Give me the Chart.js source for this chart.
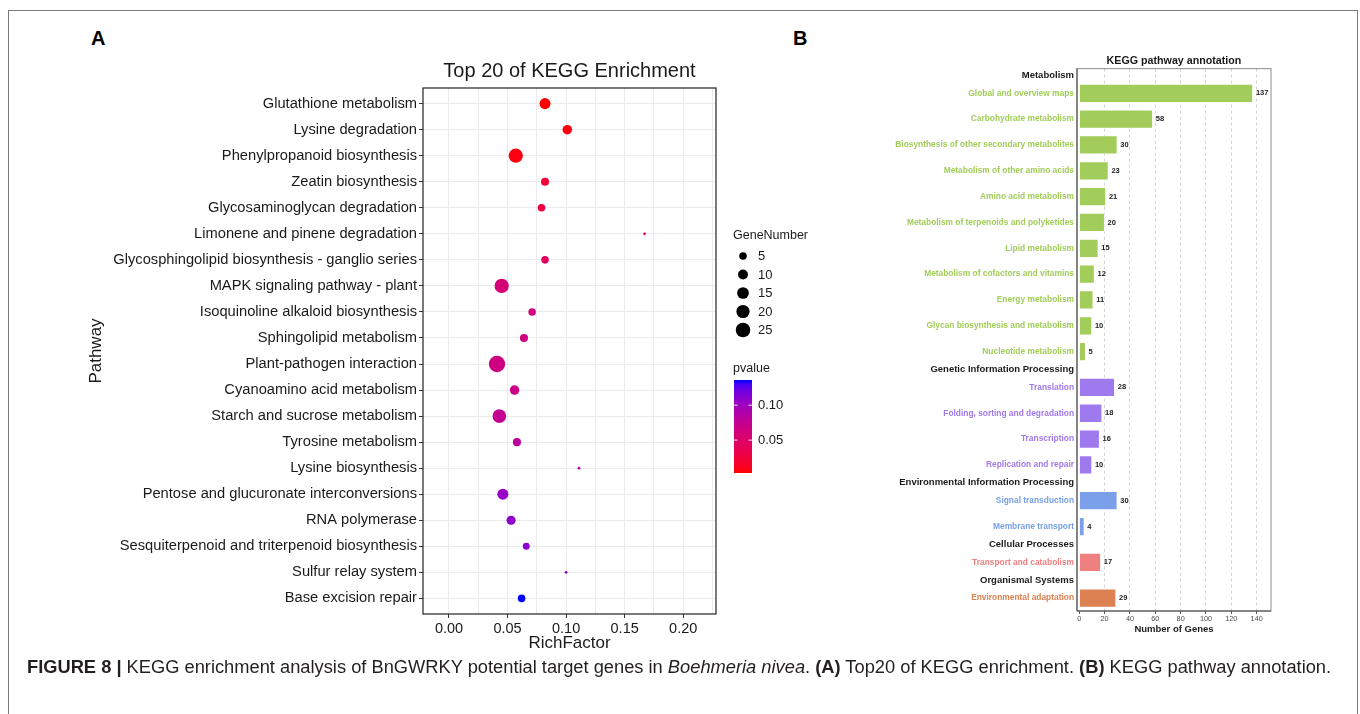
<!DOCTYPE html>
<html>
<head>
<meta charset="utf-8">
<script src="https://cdn.jsdelivr.net/npm/chart.js@4.4.1/dist/chart.umd.min.js"></script>
<style>
  body { margin: 0; width: 1360px; height: 714px; background: #fff; position: relative; overflow: hidden;
         font-family: "Liberation Sans", Arial, Helvetica, sans-serif; }
  .frame { position: absolute; left: 8px; top: 10px; width: 1350px; height: 720px; border: 1px solid #7a7a7a;
           border-bottom: none; box-sizing: border-box; }
  #chart-a { position: absolute; left: 0; top: 0; }
  #chart-b { position: absolute; left: 830px; top: 0; }
  .panel-letter { position: absolute; font-weight: bold; font-size: 20px; line-height: 20px; color: #000; }
  .caption { position: absolute; left: 27px; top: 656px; font-size: 18.3px; line-height: 22px; color: #231f20; white-space: nowrap; }
</style>
</head>
<body>
<div class="frame"></div>
<div class="panel-letter" style="left:91px; top:28px;">A</div>
<div class="panel-letter" style="left:793px; top:28px;">B</div>
<canvas id="chart-a" width="830" height="690"></canvas>
<canvas id="chart-b" width="530" height="690"></canvas>
<div class="caption"><b>FIGURE 8 |</b> KEGG enrichment analysis of BnGWRKY potential target genes in <i>Boehmeria nivea</i>. <b>(A)</b> Top20 of KEGG enrichment. <b>(B)</b> KEGG pathway annotation.</div>

<script>
// ---- panel A data ----
const pathways = [
    'Glutathione metabolism', 'Lysine degradation', 'Phenylpropanoid biosynthesis', 'Zeatin biosynthesis',
    'Glycosaminoglycan degradation', 'Limonene and pinene degradation',
    'Glycosphingolipid biosynthesis - ganglio series', 'MAPK signaling pathway - plant',
    'Isoquinoline alkaloid biosynthesis', 'Sphingolipid metabolism', 'Plant-pathogen interaction',
    'Cyanoamino acid metabolism', 'Starch and sucrose metabolism', 'Tyrosine metabolism', 'Lysine biosynthesis',
    'Pentose and glucuronate interconversions', 'RNA polymerase',
    'Sesquiterpenoid and triterpenoid biosynthesis', 'Sulfur relay system', 'Base excision repair'
];
const richFactor = [0.082, 0.101, 0.057, 0.082, 0.079, 0.167, 0.082, 0.045, 0.071, 0.064,
                    0.041, 0.056, 0.043, 0.058, 0.111, 0.046, 0.053, 0.066, 0.100, 0.062];
const geneNumber = [13, 9, 24, 6, 5, 1, 5, 24, 5, 6, 33, 9, 22, 6, 1, 13, 8, 4, 1, 5];
const pvalue = [0.003, 0.006, 0.007, 0.022, 0.027, 0.035, 0.045, 0.058, 0.062, 0.064,
                0.066, 0.068, 0.074, 0.080, 0.092, 0.104, 0.107, 0.110, 0.114, 0.136];
const geneBreaks = [5, 10, 15, 20, 25];
const pvalueBreaks = [0.05, 0.10];

// ---- panel B data ----
const groups = ['Metabolism', 'Genetic Information Processing', 'Environmental Information Processing',
                'Cellular Processes', 'Organismal Systems'];
const annotations = [
    'Global and overview maps', 'Carbohydrate metabolism', 'Biosynthesis of other secondary metabolites',
    'Metabolism of other amino acids', 'Amino acid metabolism', 'Metabolism of terpenoids and polyketides',
    'Lipid metabolism', 'Metabolism of cofactors and vitamins', 'Energy metabolism',
    'Glycan biosynthesis and metabolism', 'Nucleotide metabolism',
    'Translation', 'Folding, sorting and degradation', 'Transcription', 'Replication and repair',
    'Signal transduction', 'Membrane transport',
    'Transport and catabolism',
    'Environmental adaptation'
];
const annotationGroup = [0, 0, 0, 0, 0, 0, 0, 0, 0, 0, 0, 1, 1, 1, 1, 2, 2, 3, 4];
const geneCounts = [137, 58, 30, 23, 21, 20, 15, 12, 11, 10, 5, 28, 18, 16, 10, 30, 4, 17, 29];

const groupColors = ['#a2cd5a', '#9f79ee', '#79a0e8', '#f08080', '#dc8252'];
const FONT = '"Liberation Sans", Arial, Helvetica, sans-serif';
Chart.defaults.font.family = FONT;
Chart.defaults.animation = false;

// size scale like ggplot's area palette (range 1..6)
const gMin = Math.min(...geneNumber), gMax = Math.max(...geneNumber);
function bubbleRadius(n) {
    return 1.36 * (1 + 5 * Math.sqrt((n - gMin) / (gMax - gMin)));
}

// red -> blue gradient interpolated in Lab
function toLab(rgb) {
    const lin = rgb.map(c => { c /= 255; return c <= 0.04045 ? c / 12.92 : Math.pow((c + 0.055) / 1.055, 2.4); });
    const X = (0.4124 * lin[0] + 0.3576 * lin[1] + 0.1805 * lin[2]) / 0.95047;
    const Y = 0.2126 * lin[0] + 0.7152 * lin[1] + 0.0722 * lin[2];
    const Z = (0.0193 * lin[0] + 0.1192 * lin[1] + 0.9505 * lin[2]) / 1.08883;
    const f = t => t > 0.008856 ? Math.cbrt(t) : 7.787 * t + 16 / 116;
    return [116 * f(Y) - 16, 500 * (f(X) - f(Y)), 200 * (f(Y) - f(Z))];
}
function fromLab(lab) {
    const fy = (lab[0] + 16) / 116, fx = fy + lab[1] / 500, fz = fy - lab[2] / 200;
    const inv = t => t * t * t > 0.008856 ? t * t * t : (t - 16 / 116) / 7.787;
    const X = inv(fx) * 0.95047, Y = inv(fy), Z = inv(fz) * 1.08883;
    const lin = [3.2406 * X - 1.5372 * Y - 0.4986 * Z, -0.9689 * X + 1.8758 * Y + 0.0415 * Z, 0.0557 * X - 0.2040 * Y + 1.0570 * Z];
    const out = lin.map(v => {
        v = v <= 0.0031308 ? 12.92 * v : 1.055 * Math.pow(v, 1 / 2.4) - 0.055;
        return Math.round(Math.max(0, Math.min(1, v)) * 255);
    });
    return `rgb(${out[0]},${out[1]},${out[2]})`;
}
const labLow = toLab([255, 0, 0]), labHigh = toLab([0, 0, 255]);
const pMin = Math.min(...pvalue), pMax = Math.max(...pvalue);
function pColor(p) {
    const t = Math.max(0, Math.min(1, (p - pMin) / (pMax - pMin)));
    return fromLab(labLow.map((v, k) => v + (labHigh[k] - v) * t));
}

const isMajor = v => Math.abs(Math.round(v * 20) - v * 20) < 1e-6;

const panelBorder = {
    id: 'panelBorder',
    afterDatasetsDraw(chart) {
        const { ctx, chartArea: a } = chart;
        ctx.save();
        ctx.strokeStyle = '#222';
        ctx.lineWidth = 1.2;
        ctx.strokeRect(a.left, a.top, a.right - a.left, a.bottom - a.top);
        ctx.restore();
    }
};

const enrichLegend = {
    id: 'enrichLegend',
    afterDraw(chart) {
        const ctx = chart.ctx;
        ctx.save();
        ctx.fillStyle = '#1a1a1a';
        ctx.textBaseline = 'middle';
        ctx.font = `12.5px ${FONT}`;
        ctx.fillText('GeneNumber', 733, 236);
        ctx.font = `13px ${FONT}`;
        geneBreaks.forEach((g, i) => {
            const y = 256 + i * 18.5;
            ctx.fillStyle = '#000';
            ctx.beginPath();
            ctx.arc(743, y, bubbleRadius(g), 0, Math.PI * 2);
            ctx.fill();
            ctx.fillStyle = '#1a1a1a';
            ctx.fillText(String(g), 758, y + 0.5);
        });

        ctx.font = `12.5px ${FONT}`;
        ctx.fillText('pvalue', 733, 369);
        const top = 380, bottom = 473, left = 734, w = 18;
        const grad = ctx.createLinearGradient(0, bottom, 0, top);
        for (let k = 0; k <= 20; k++) grad.addColorStop(k / 20, pColor(pMin + (pMax - pMin) * k / 20));
        ctx.fillStyle = grad;
        ctx.fillRect(left, top, w, bottom - top);
        ctx.font = `13px ${FONT}`;
        pvalueBreaks.forEach(p => {
            const y = bottom - (p - pMin) / (pMax - pMin) * (bottom - top);
            ctx.strokeStyle = 'rgba(255,255,255,0.9)';
            ctx.lineWidth = 1;
            ctx.beginPath();
            ctx.moveTo(left, y); ctx.lineTo(left + 3.5, y);
            ctx.moveTo(left + w - 3.5, y); ctx.lineTo(left + w, y);
            ctx.stroke();
            ctx.fillStyle = '#1a1a1a';
            ctx.fillText(p.toFixed(2), 758, y + 0.5);
        });
        ctx.restore();
    }
};

new Chart(document.getElementById('chart-a'), {
    type: 'bubble',
    data: {
        datasets: [{
            data: pathways.map((p, i) => ({ x: richFactor[i], y: i, r: bubbleRadius(geneNumber[i]) })),
            backgroundColor: pvalue.map(pColor),
            borderWidth: 0
        }]
    },
    options: {
        responsive: false,
        layout: { padding: { top: 50, left: 86, right: 114, bottom: 36 } },
        plugins: {
            legend: { display: false },
            tooltip: { enabled: false },
            title: {
                display: true, text: 'Top 20 of KEGG Enrichment', fullSize: false,
                font: { size: 20, weight: 'normal' }, color: '#1a1a1a', padding: { top: 9, bottom: 5 }
            }
        },
        scales: {
            x: {
                type: 'linear', min: -0.0222, max: 0.228,
                ticks: {
                    stepSize: 0.025, includeBounds: false, autoSkip: false, maxRotation: 0,
                    color: '#1a1a1a', font: { size: 14.5 }, padding: 2,
                    callback: v => isMajor(v) ? v.toFixed(2) : ''
                },
                grid: {
                    color: '#ebebeb', tickLength: 4,
                    tickColor: ctx => ctx.tick && isMajor(ctx.tick.value) ? '#333' : 'rgba(0,0,0,0)'
                },
                border: { display: false },
                title: { display: true, text: 'RichFactor', font: { size: 17 }, color: '#1a1a1a', padding: 0 },
                afterFit: s => { s.height = 40; }
            },
            y: {
                type: 'linear', reverse: true, min: -0.6, max: pathways.length - 0.4,
                afterBuildTicks: s => { s.ticks = pathways.map((p, i) => ({ value: i })); },
                ticks: { autoSkip: false, color: '#1a1a1a', font: { size: 14.7 }, padding: 2,
                         callback: v => pathways[v] },
                grid: { color: '#ebebeb', tickLength: 4, tickColor: '#333' },
                border: { display: false },
                title: { display: true, text: 'Pathway', font: { size: 17 }, color: '#1a1a1a', padding: 0 },
                afterFit: s => { s.width = 423 - 86; }
            }
        }
    },
    plugins: [panelBorder, enrichLegend]
});

// ---- panel B: rows with group headings ----
const HEADER = 0.385;
const rows = [];
let pos = 0;
annotations.forEach((name, i) => {
    const g = annotationGroup[i];
    if (i === 0 || annotationGroup[i - 1] !== g) {
        rows.push({ label: groups[g], header: true, value: pos + HEADER / 2, group: g });
        pos += HEADER;
    }
    rows.push({ label: name, header: false, value: pos + 0.5, group: g });
    pos += 1;
});
const barRows = rows.filter(r => !r.header);
const rowOf = ctx => rows[ctx.index] || rows[1];

const annotationBox = {
    id: 'annotationBox',
    afterDatasetsDraw(chart) {
        const { ctx, chartArea: a } = chart;
        ctx.save();
        ctx.strokeStyle = '#8c8c8c';
        ctx.lineWidth = 1;
        ctx.strokeRect(a.left, a.top, a.right - a.left, a.bottom - a.top);
        ctx.strokeStyle = '#444';
        ctx.beginPath();
        ctx.moveTo(a.left, a.top); ctx.lineTo(a.left, a.bottom); ctx.lineTo(a.right, a.bottom);
        ctx.stroke();
        // value labels at bar ends
        ctx.fillStyle = '#222';
        ctx.font = `bold 7.5px ${FONT}`;
        ctx.textBaseline = 'middle';
        chart.getDatasetMeta(0).data.forEach((bar, i) => {
            ctx.fillText(String(geneCounts[i]), bar.x + 3, bar.y);
        });
        ctx.restore();
    }
};

new Chart(document.getElementById('chart-b'), {
    type: 'bar',
    data: {
        datasets: [{
            data: geneCounts.map((c, i) => ({ x: c, y: barRows[i].value })),
            backgroundColor: annotationGroup.map(g => groupColors[g]),
            borderColor: 'rgba(255,255,255,0.55)',
            borderWidth: 1,
            barThickness: 18.6
        }]
    },
    options: {
        indexAxis: 'y',
        responsive: false,
        layout: { padding: { top: 50, left: 0, right: 89, bottom: 55 } },
        plugins: {
            legend: { display: false },
            tooltip: { enabled: false },
            title: {
                display: true, text: 'KEGG pathway annotation', fullSize: false,
                font: { size: 10.7, weight: 'bold' }, color: '#1a1a1a', padding: { top: 4.4, bottom: 1.4 }
            }
        },
        scales: {
            x: {
                type: 'linear', min: -1.8, max: 151.3,
                ticks: { stepSize: 20, includeBounds: false, autoSkip: false, maxRotation: 0,
                         color: '#4d4d4d', font: { size: 7.3 }, padding: 1 },
                grid: {
                    color: ctx => ctx.tick && ctx.tick.value === 0 ? 'rgba(0,0,0,0)' : '#d2d2d2',
                    tickLength: 3, tickColor: '#555'
                },
                border: { display: false, dash: [3, 3] },
                title: { display: true, text: 'Number of Genes', font: { size: 9.5, weight: 'bold' }, color: '#1a1a1a', padding: 0 },
                afterFit: s => { s.height = 24; }
            },
            y: {
                type: 'linear', reverse: true, min: -0.07, max: pos, offset: false,
                afterBuildTicks: s => { s.ticks = rows.map(r => ({ value: r.value })); },
                ticks: {
                    autoSkip: false, padding: 3,
                    callback: (v, i) => rows[i].label,
                    color: ctx => rowOf(ctx).header ? '#1a1a1a' : groupColors[rowOf(ctx).group],
                    font: ctx => rowOf(ctx).header ? { size: 9.5, weight: 'bold' } : { size: 8.4, weight: 'bold' }
                },
                grid: { display: false, drawTicks: false, offset: false },
                border: { display: false },
                afterFit: s => { s.width = 247; }
            }
        }
    },
    plugins: [annotationBox]
});
</script>
</body>
</html>
